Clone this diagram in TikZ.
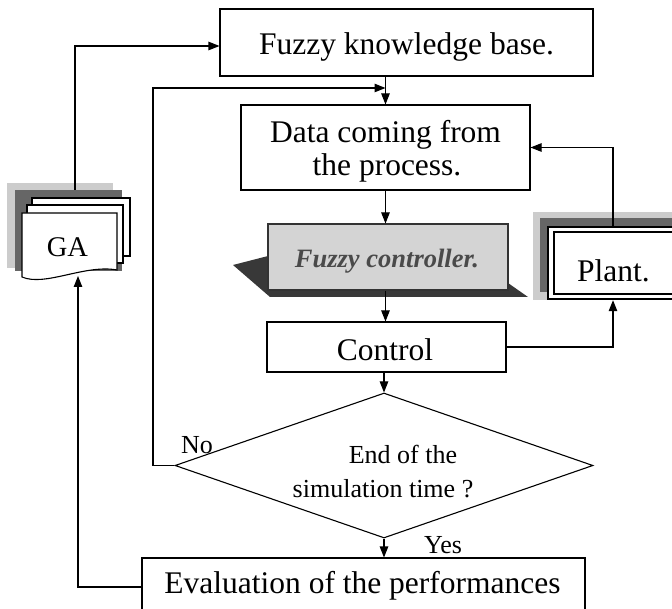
\documentclass[tikz,border=0pt]{standalone}
\usepackage{fontspec}
\setmainfont{Liberation Serif}
\usetikzlibrary{arrows.meta,shapes.geometric}
\definecolor{shlight}{HTML}{CCCCCC}
\definecolor{shdark}{HTML}{666666}
\definecolor{shfuzzy}{HTML}{383838}
\definecolor{fzfill}{HTML}{D4D4D4}
\definecolor{fztext}{HTML}{4A4A4A}
\begin{document}
\begin{tikzpicture}[x=1pt,y=-1pt,line width=1.1pt,
  box/.style={draw,rectangle,inner sep=0pt,fill=white},
  lbl/.style={anchor=base,inner sep=0pt,font=\fontsize{31.5}{33}\selectfont},
  sml/.style={anchor=base,inner sep=0pt,font=\fontsize{26}{30}\selectfont},
  arr/.style={-{Triangle[length=11pt,width=8.5pt]}},
  doc/.style={draw,fill=white,line width=1.1pt}]
\useasboundingbox (0,0) rectangle (672,609);
\clip (0,0) rectangle (672,609);

% Fuzzy knowledge base
\node[box,minimum width=373pt,minimum height=67pt] (fkb) at (406.5,42.5) {};
\node[lbl] (fkbt) at (406.5,55) {Fuzzy knowledge base.};

% Data coming from the process
\node[box,minimum width=289pt,minimum height=85pt] (data) at (385.5,147.5) {};
\node[lbl] (datat1) at (385.5,143) {Data coming from};
\node[lbl] (datat2) at (387,176) {the process.};

% Fuzzy controller with shadow
\fill[shfuzzy] (268,256) -- (233,265) -- (270,297) -- (528,297) -- (508,283) -- cycle;
\node[box,fill=fzfill,draw=black!80,minimum width=240pt,minimum height=66pt] (fuzzy) at (388,257) {};
\node[sml,text=fztext,font=\fontsize{26.5}{30}\selectfont\bfseries\itshape] (fuzzyt) at (387,268) {Fuzzy controller.};

% Control
\node[box,minimum width=239pt,minimum height=50pt] (ctrl) at (386.5,347) {};
\node[lbl] (ctrlt) at (385,361) {Control};

% Plant with shadow and double border
\fill[shlight] (533,212) rectangle (672,300);
\fill[shdark] (540,218) rectangle (680,292);
\node[draw,fill=white,line width=2.4pt,inner sep=0pt,minimum width=130pt,minimum height=72pt] (plant) at (613,263) {};
\draw[line width=1.3pt] (554,232) rectangle (690,294);
\node[lbl] (plantt) at (613.5,282) {Plant.};

% Decision
\node[draw,diamond,fill=white,inner sep=0pt,minimum width=418pt,minimum height=145pt] (dec) at (384,465.5) {};
\node[sml] (dect1) at (403,463) {End of the};
\node[sml] (dect2) at (383,497) {simulation time ?};
\node[sml] (no) at (197,453) {No};
\node[sml] (yes) at (443,553) {Yes};

% Evaluation
\node[box,minimum width=443pt,minimum height=80pt] (eval) at (363.5,598) {};
\node[lbl] (evalt) at (362.5,593) {Evaluation of the performances};

% GA document stack with shadow
\fill[shlight] (7,183) rectangle (113,268);
\fill[shdark] (15,190) rectangle (122,271);
\draw[doc] (32,198) rectangle (130,256);
\draw[doc] (27,205) -- (123,205) -- (123,263) -- (27,263) -- cycle;
\draw[doc] (22,213) -- (117,213) -- (117,270) .. controls (85,264) and (45,287) .. (22,277) -- cycle;
\node[sml,font=\fontsize{28.5}{30}\selectfont] (ga) at (67.5,257) {GA};
\coordinate (gaT) at (75,190);
\coordinate (gaB) at (78,276);
\coordinate (merge) at (385.5,88);

% Connectors
\draw[arr] (gaT) |- ([yshift=-3.5pt]fkb.west);
\draw[arr] (data.north |- fkb.south) -- (data.north);
\draw[arr] (dec.west) -- (153,465.5) -- (153,88) -- (merge);
\draw[arr] (plant.north) |- (data.east);
\draw[arr] (data.south) -- (data.south |- fuzzy.north);
\draw[arr] (data.south |- fuzzy.south) -- (data.south |- ctrl.north);
\draw[arr] (ctrl.east) -| (plant.south);
\draw[arr] (dec.north |- ctrl.south) -- (dec.north);
\draw[arr] (dec.south) -- (dec.south |- eval.north);
\draw[arr] ([yshift=11pt]eval.west) -| (gaB);
\end{tikzpicture}
\end{document}
